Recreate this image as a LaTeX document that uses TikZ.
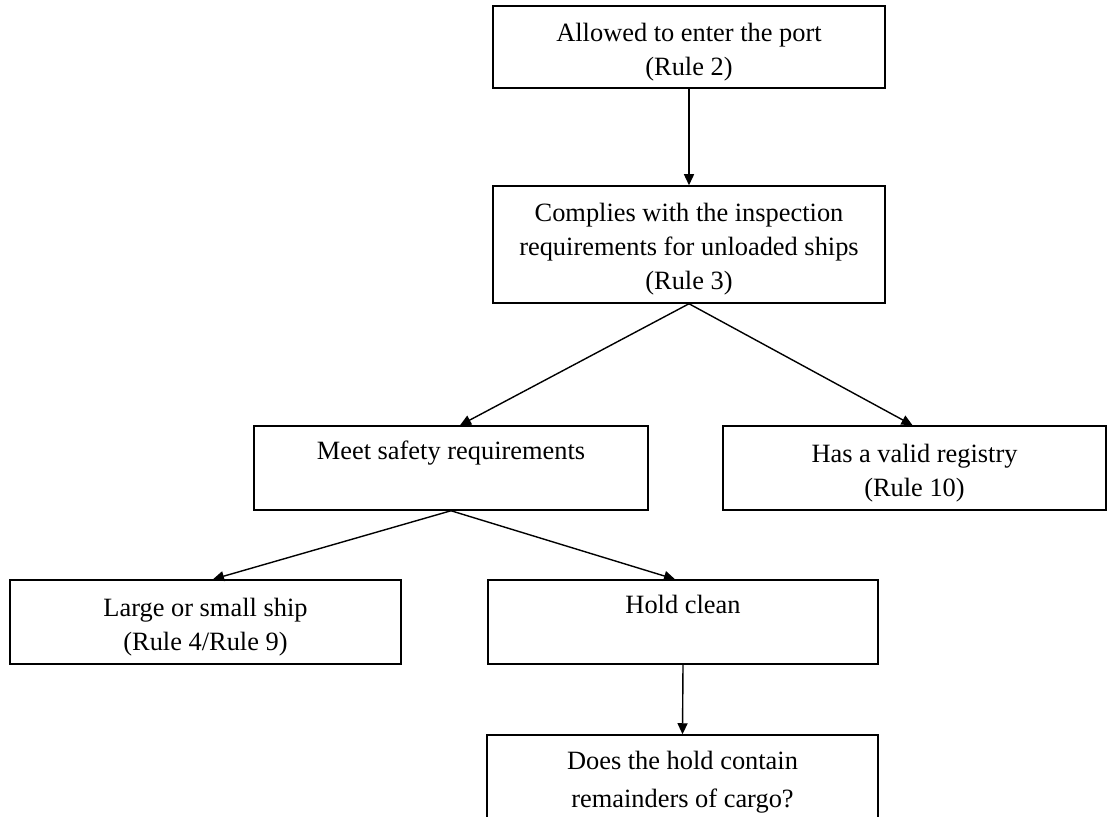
\documentclass[tikz,border=0pt]{standalone}
\usepackage{fontspec}
\setmainfont{Liberation Serif}
\usetikzlibrary{arrows.meta}
\newcommand{\toprl}{\rule{0pt}{14pt}}
\begin{document}
\begin{tikzpicture}[x=0.5pt,y=-0.5pt,
  box/.style={draw, line width=0.75pt, rectangle, inner sep=0pt, align=center,
    font=\fontsize{13.2}{17}\selectfont, minimum height=42pt},
  arr/.style={draw, line width=0.7pt, -{Triangle[length=5.5pt,width=5pt]}}]
\useasboundingbox (0,0) rectangle (1107,817);
\clip (0,0) rectangle (1107,817);
\node[box, minimum width=196pt, minimum height=41pt] (b1) at (689,47)
  {\toprl Allowed to enter the port\\(Rule 2)};
\node[box, minimum width=196pt, minimum height=58.5pt] (b2) at (689,244.5)
  {\toprl Complies with the inspection\\requirements for unloaded ships\\(Rule 3)};
\node[box, minimum width=197pt] (b3) at (451,468)
  {\toprl Meet safety requirements\\\strut};
\node[box, minimum width=191.5pt] (b4) at (914.5,468)
  {\toprl Has a valid registry\\(Rule 10)};
\node[box, minimum width=195.5pt] (b5) at (205.5,622)
  {\toprl Large or small ship\\(Rule 4/Rule 9)};
\node[box, minimum width=195pt] (b6) at (683,622)
  {\toprl Hold clean\\\strut};
\node[box, minimum width=195.5pt] (b7) at (682.5,777)
  {\toprl Does the hold contain\\[2pt]remainders of cargo?};
\draw[arr] (b1.south) -- (b2.north);
\draw[arr] (b2.south) -- ([xshift=4.5pt]b3.north);
\draw[arr] (b2.south) -- ([xshift=-1pt]b4.north);
\draw[arr] (b3.south) -- ([xshift=3.75pt]b5.north);
\draw[arr] (b3.south) -- ([xshift=-4pt]b6.north);
\draw[arr] (b6.south) -- (b7.north);
\end{tikzpicture}
\end{document}
